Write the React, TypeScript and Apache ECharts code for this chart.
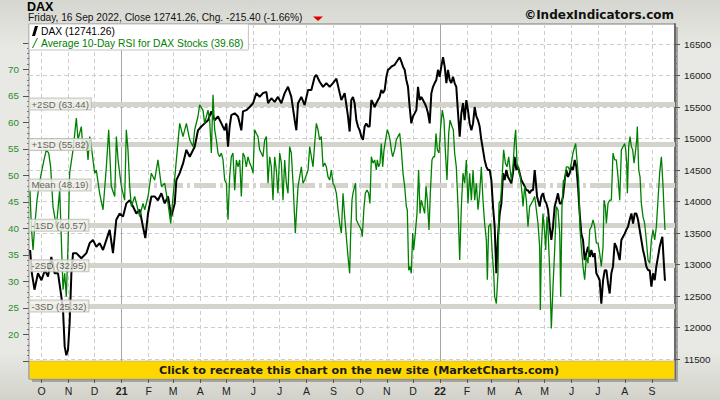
import React, { useEffect, useRef } from 'react';
import * as echarts from 'echarts';

const DAY = 86400000;
const BASE = new Date(2021, 0, 1).getTime();
// visible date range, in days from 1 Jan 2021
const X_MIN_DAY = -106.3;
const X_MAX_DAY = 634.5;

const title = 'DAX';
const subtitle = 'Friday, 16 Sep 2022, Close 12741.26, Chg. -215.40 (-1.66%)';
const copyright = '©IndexIndicators.com';
const bannerText = 'Click to recreate this chart on the new site (MarketCharts.com)';
const daxName = 'DAX (12741.26)';
const rsiName = 'Average 10-Day RSI for DAX Stocks (39.68)';

const monthLetters = ['J', 'F', 'M', 'A', 'M', 'J', 'J', 'A', 'S', 'O', 'N', 'D'];
const yearStarts = [2021, 2022];

// DAX axis (right)
const daxAxisMin = 11500;
const daxAxisMax = 16500;
const daxAxisStep = 500;
// RSI axis (left)
const rsiAxisMin = 15;
const rsiAxisMax = 75;
const rsiAxisStep = 5;
const rsiLabelsShown = [20, 25, 30, 35, 40, 45, 50, 55, 60, 65, 70];

const sdNames = ['+2SD', '+1SD', 'Mean', '-1SD', '-2SD', '-3SD'];
const sdLevels = [63.44, 55.82, 48.19, 40.57, 32.95, 25.32];

// observation day (days since 1 Jan 2021) and DAX close
const daxDays = [
  -105, -103, -100, -96, -92, -88, -84.5, -80.7, -76.9, -73, -69.2, -67.3, -65.4, -63.5, -61.6, -59.7, -57.7, -55.8, -52, -46.3,
  -40.5, -36.7, -32.9, -29.1, -25.3, -21.4, -17.6, -13.8, -10, -6.2, -2.3, 1.5, 5.3, 9.2, 13, 16.8, 20.6, 24.4, 27.1, 30.2,
  34, 37.8, 41.6, 45.5, 49.3, 53.1, 56.9, 60.8, 62.7, 66.5, 70.3, 74.2, 78,
  83.7, 87.5, 91.3, 95.1, 99, 102.8, 106.6, 110.4, 114.3, 118.1, 120, 121.9, 123.8, 125.7, 129.6, 133.4, 137.2, 139.1, 142.9,
  146.8, 150.6, 154.4, 158.2, 162, 165.9, 167.8, 171.6, 175.4, 179.2, 183.1, 186.9, 190.7, 194.5, 198.4, 200.3, 202.2, 206,
  209.8, 213.7, 217.5, 221.3, 223.2, 227, 230.9, 234.7, 238.5, 242.3, 246.2, 250, 251.9, 255.7, 259.5, 261.4,
  263.3, 265.2, 267.1, 269.1, 271, 272.9, 274.8, 276.7, 278.6, 280.5, 282.4, 284.3, 286.3, 288.2, 290.1, 292, 293.9, 295.8,
  297.7, 299.6, 301.6, 303.5, 305.4, 307.3, 309.2, 313, 316.8, 318.8, 320.7, 322.6, 324.5, 326.4, 328.3, 330.2, 332.1, 334,
  336, 337.9, 339.8, 341.7, 343.6, 345.5, 347.4, 349.3, 351.3, 353.2, 355.1, 357, 358.9, 360.8, 362.7, 364.6, 366.5, 368.5,
  370.4, 372.3, 374.2, 376.1, 378, 379.9, 381.8, 383.7, 385.7, 387.6, 389.5, 391.4, 393.3, 395.2, 397.1, 399, 401, 402.9,
  404.8, 406.7, 408.6, 410.5, 412.4, 414.3, 416.2, 418.2, 420.1, 422, 423.9, 425.8, 427.7, 429.6, 431.5, 433.5, 435.4, 437.3,
  439.2, 441.1, 443,
  444.9, 446.8, 448.7, 450.6, 452.6, 454.5, 456.4, 458.3, 460.2, 462.1, 464, 465.9, 467.8, 469.8, 471.7, 473.6, 474.7, 476.3,
  477.4, 479.3, 481.2, 483.1, 485.1, 487, 488.9, 490.8, 492.7, 494.6, 496.5, 498.4, 500.3, 502.3, 504.2, 506.1, 508, 509.9,
  511.8, 513.7, 515.6, 517.5, 519.5, 521.4, 523.3, 525.2, 527.1, 529, 530.9, 532.8, 534.8, 536.7, 538.6, 540.5, 542.4, 544.3,
  546.2, 548.1, 550, 552, 553.9, 555.8, 557.7, 559.6, 561.5, 563.4, 565.3, 567.2, 569.2, 571.1, 573, 574.9, 576.8, 578.7,
  580.6, 582.5, 584.5, 586.4, 588.3, 590.2, 592.1, 594, 595.9, 597.8, 599.7, 601.6, 603.6, 605.5, 607.4, 609.3, 611.2, 613.1,
  615, 616.9, 618.9, 620, 621.5, 623,
];
const daxValues = [
  13230, 12860, 12600, 12860, 12750, 12910, 12810, 13120, 12860, 12860, 12490, 12280, 11700, 11560, 11640, 12070, 12860, 13180, 13180, 13100,
  13180, 13340, 13390, 13280, 13340, 13230, 13390, 13550, 13180, 13710, 13810, 13760, 13970, 14020, 13920, 13810, 13870, 13600, 13420, 13810,
  14080, 14080, 14020, 14130, 13970, 14080, 13760, 13970, 14340, 14450, 14600, 14820, 14710,
  14870, 15130, 15190, 15240, 15290, 15430, 15290, 15350, 15240, 15130, 15240, 14870, 15190, 15370, 15400, 15350, 15130, 15430, 15450,
  15500, 15560, 15720, 15660, 15720, 15740, 15560, 15640, 15580, 15660, 15560, 15720, 15820, 15660, 15290, 15130, 15560, 15660,
  15530, 15770, 15770, 15980, 16010, 15900, 15820, 15880, 15820, 15880, 15950, 15720, 15610, 15720, 15350, 15110,
  15610, 15660, 15560, 15290, 15190, 15130, 15030, 14980, 15190, 15240, 15190, 15190, 15610, 15560, 15500, 15560, 15610, 15660,
  15770, 15720, 15770, 15980, 16090, 16110, 16140, 16170, 16250, 16290, 16220, 16140, 16090, 15930, 15820, 15500, 15240, 15350,
  15400, 15450, 15820, 15610, 15660, 15610, 15560, 15500, 15400, 15240, 15720, 15820, 15880, 15930, 16090, 15980, 16140, 16290,
  16140, 15880, 16090, 15930, 15880, 15980, 15880, 15820, 15400, 15030, 15400, 15560, 15290, 15610, 15450, 15240, 15130, 15240,
  15500, 15350, 15290, 15190, 14980, 14820, 14660, 14550, 14500, 14500, 14340, 13920, 13600, 12860, 13440, 13810, 13970, 14450,
  14340, 14500, 14390,
  14340, 14290, 14450, 14710, 14500, 14550, 14450, 14340, 14290, 14240, 14180, 14180, 14130, 14180, 14180, 14500, 14340, 14080,
  14020, 13920, 14080, 14130, 14020, 13970, 13870, 13600, 13390, 13600, 13920, 14020, 14130, 13970, 13970, 14080, 14340, 14500,
  14390, 14450, 14550, 14500, 14660, 14550, 14240, 13810, 13490, 13390, 13070, 13180, 13280, 13120, 13230, 13120, 13180, 12860,
  12810, 12750, 12380, 12750, 12910, 12910, 12700, 12540, 12860, 12970, 13340, 13280, 13180, 13070, 13390, 13440, 13490, 13550,
  13600, 13710, 13810, 13650, 13810, 13810, 13710, 13550, 13390, 13230, 13120, 12970, 12910, 12910, 12650, 12860, 12750, 12970,
  13120, 13280, 13390, 13440, 13070, 12741.26,
];

// observation day (days since 1 Jan 2021) and average 10-day RSI
const rsiDays = [
  -105.2, -103.6, -101.7, -99.8, -97.1, -94.8, -92.2, -89.1, -86.4, -83.7, -81.5, -78.8, -74.9, -71.1, -69.2, -67.3, -65.4, -63.5,
  -61.6, -59.7, -55.8, -52, -50.1, -46.3, -44.4, -40.5, -38.6, -36.7, -34.8, -31, -29.1, -25.3, -21.4, -17.6, -14.9, -11.9, -8,
  -6.1, -4.2, -0.4, 3.4, 5.3, 7.2, 9.2, 11.1, 14.9, 20.6, 24.4, 26.4, 30.2, 34, 37.8, 41.6, 45.5, 49.3, 53.1, 56.2, 58.9, 62.7,
  66.5, 70.3, 74.2, 78, 81.8,
  83.7, 87.5, 89.4, 93.2, 95.1, 97.1, 99, 100.9, 102.8, 104.7, 106.6, 108.5, 110.4, 112.3, 114.3, 116.2, 118.1, 120, 121.9, 123.8,
  125.7, 127.6, 129.6, 131.5, 133.4, 135.3, 137.2, 139.1, 141, 142.9, 144.8, 146.8, 148.7, 150.6, 152.5, 154.4, 156.3, 158.2,
  160.1, 162, 164, 165.9, 167.8, 169.7, 171.6, 173.5, 175.4, 177.3, 179.2, 181.2, 183.1, 185, 186.9, 188.8, 190.7, 192.6, 194.5,
  196.5, 199.1, 202.2, 206, 207.9, 209.8, 213.7, 215.6, 217.5, 219.4, 221.3, 223.2, 225.1, 227, 228.9, 230.9, 232.8, 234.7,
  236.6, 238.5, 240.4, 242.3, 244.2, 246.2, 248.1, 250, 251.9, 253.8, 255.7, 257.6, 259.5, 261.4,
  262.6, 264.1, 265.2, 267.1, 268.3, 269.1, 271, 272.9, 274.8, 275.9, 277.9, 279.4, 281.3, 283.2, 284.7, 286.3, 288.2, 290.1,
  292, 293.1, 294.7, 296.2, 297.7, 299.3, 300.8, 302.7, 304.6, 306.1, 307.7, 309.2, 310.7, 313, 314.9, 316.8, 318.8, 320.7,
  322.6, 324.5, 326.4, 327.5, 329.1, 330.6, 332.1, 333.7, 334.8, 336.7, 338.6, 340.5, 342.1, 343.6, 345.5, 347.4, 349, 350.5,
  352.4, 353.9, 355.8, 357.4, 358.9, 360.4, 362, 363.9, 365.8, 367.7, 369.6, 371.1, 373, 375, 376.5, 378.8, 380.3, 381.8, 383.7,
  385.7, 387.6, 389.5, 391.4, 393.3, 395.2, 397.1, 399, 401, 402.9, 404.8, 406.7, 408.6, 410.5, 412.4, 414.3, 416.2, 418.2,
  419.3, 420.8, 423.1, 424.7, 426.6, 427.7, 429.6, 431.5, 432.7, 434.6, 436.1, 438, 440, 441.9, 443.8,
  446.8, 448.7, 450.6, 451.8, 453.3, 455.2, 457.1, 459.1, 460.2, 462.1, 464, 465.9, 467.8, 469.8, 471.7, 473.6, 475.5, 477.4,
  479.3, 480.1, 481.2, 483.1, 485.1, 486.2, 487.7, 488.9, 490.8, 492.7, 494.6, 496.5, 498.4, 500.3, 502.3, 503.4, 504.9, 506.5,
  508, 509.9, 511.8, 513.7, 515.6, 517.5, 519.5, 520.6, 522.1, 524, 525.6, 527.1, 529, 530.9, 532.8, 534.8, 536.7, 538.6,
  540.5, 542.4, 544.3, 546.2, 548.1, 550, 552, 553.1, 554.6, 555.8, 557.7, 559.6, 561.5, 563.4, 565.3, 567.2, 569.2, 571.1,
  573, 574.9, 576.8, 578, 579.1, 579.9, 581.4, 582.9, 584.5, 586, 587.5, 589, 590.6, 591.3, 592.9, 594.4, 595.9, 597.8, 599.7,
  601.6, 603.6, 605.5, 607.4, 609.3, 611.2, 613.1, 615, 616.9, 618.9, 620.8, 621.9, 623,
];
const rsiValues = [
  47.2, 40.3, 35.9, 40.3, 45.3, 47.9, 50.4, 52.9, 54.8, 54.2, 51.6, 44.1, 40.3, 47.2, 37.8, 28.4, 31.5, 27.1,
  36.5, 50.4, 54.8, 60.8, 56.7, 59.2, 54.8, 56.7, 52.9, 57.3, 55.4, 50.4, 51, 46.6, 43.5, 51.6, 58.6, 47.9, 46,
  57.3, 52.9, 47.9, 45.3, 58.6, 54.8, 47.9, 44.1, 46, 42.2, 44.7, 43.5, 46, 50.4, 49.1, 52.9, 47.9, 48.5, 44.7, 40.9, 46, 52.9,
  59.8, 57.3, 59.8, 56.7, 55.4,
  58.6, 61.1, 63.3, 62.3, 59.8, 61.1, 62.3, 60.4, 54.2, 65.2, 58.6, 56.7, 54.2, 53.5, 54.2, 52.9, 49.1, 48.5, 41.6, 49.7,
  53.5, 54.2, 47.2, 52.9, 51.6, 52.9, 46, 54.2, 53.5, 51.6, 53.5, 52.3, 51.6, 50.4, 58.6, 57.9, 57.3, 54.8,
  54.2, 53.5, 56.7, 57.3, 48.5, 53.5, 51.6, 45.3, 53.5, 51, 46.6, 54.2, 52.3, 45.3, 52.9, 48.5, 46.6, 55.4, 54.2,
  48.5, 39.1, 47.9, 51.6, 48.5, 49.1, 51, 55.4, 53.5, 51.6, 56, 59.8, 58.6, 56.7, 57.3, 51.6, 52.3, 51.6,
  49.7, 49.1, 51, 48.5, 47.9, 46.6, 43.5, 40.9, 39.1, 46.6, 42.2, 38.4, 34.7, 31.5,
  39.1, 45.3, 46.6, 47.9, 48.5, 41.6, 40.9, 40.3, 39.7, 38.4, 44.1, 46.6, 47.2, 46.6, 44.7, 53.5, 52.3, 52.9,
  51, 52.9, 51.6, 52.3, 56, 51.6, 54.8, 56.7, 58.6, 57.9, 56.7, 54.8, 53.5, 54.8, 56.7, 57.3, 57.9, 54.8,
  50.4, 47.9, 44.1, 43.5, 32.1, 32.8, 31.5, 39.1, 35.9, 39.1, 42.8, 51, 42.8, 45.3, 44.1, 42.8, 47.9, 45.3,
  39.7, 46.6, 52.9, 53.5, 53.5, 57.9, 54.8, 54.2, 59.2, 62.3, 60.4, 54.8, 49.1, 57.9, 60.4, 59.2, 58.6, 54.2, 51.6,
  44.1, 34, 44.1, 50.4, 48.5, 52.9, 44.7, 50.4, 45.3, 51, 45.3, 48.5, 43.5, 46.6, 51.6, 45.3, 40.9, 37.8,
  30.3, 40.3, 40.9, 35.9, 31.5, 27.1, 25.8, 31.5, 44.7, 45.3, 49.1, 54.8, 52.3, 51.6, 53.5,
  49.1, 51.6, 56.7, 58.6, 52.3, 51, 49.7, 46.6, 44.1, 47.9, 45.3, 40.3, 44.1, 44.7, 45.3, 46, 43.5, 40.9,
  36.5, 24.6, 35.9, 42.8, 39.1, 35.9, 42.2, 39.7, 32.1, 21.1, 29, 35.9, 44.1, 43.5, 39.1, 27.1, 44.1, 49.1,
  48.5, 51.6, 51.6, 51, 52.3, 54.2, 55.4, 56, 52.9, 49.1, 39.7, 36.5, 32.8, 30.3, 34.7, 33.4, 39.7, 40.3,
  41.6, 40.3, 37.2, 37.2, 35.3, 32.8, 36.5, 45.3, 44.1, 40.9, 44.7, 45.3, 45.3, 54.2, 52.9, 52.9, 49.7, 45.3,
  54.8, 55.4, 56, 54.8, 52.3, 46.6, 55.4, 57.3, 55.4, 54.8, 52.3, 54.2, 56.7, 59.2, 51, 49.7, 44.7, 42.2, 40.9,
  37.8, 34, 33.4, 37.8, 39.7, 37.8, 40.3, 45.3, 50.4, 53.5, 47.9, 43.5, 39.68,
];

const FONT = '"Liberation Sans", Arial, sans-serif';
const BOLD_FONT = '"DejaVu Sans", Verdana, sans-serif';

export default function App() {
  const ref = useRef<HTMLDivElement>(null);

  useEffect(() => {
    if (!ref.current) return;
    const chart = echarts.init(ref.current, undefined, { renderer: 'svg' });
    const toTime = (d: number) => BASE + d * DAY;
    const xMin = toTime(X_MIN_DAY);
    const xMax = toTime(X_MAX_DAY);
    const daxData = daxDays.map((d, i) => [toTime(d), daxValues[i]]);
    const rsiData = rsiDays.map((d, i) => [toTime(d), rsiValues[i]]);
    const sdLabelData = sdLevels.map((v, i) => ({ name: `${sdNames[i]} (${v.toFixed(2)})`, value: [xMin, v] }));

    const plot = { left: 29, width: 646 };
    const option: any = {
      animation: false,
      backgroundColor: {
        type: 'linear', x: 0, y: 0, x2: 0, y2: 1,
        colorStops: [
          { offset: 0, color: '#d6d6d0' },
          { offset: 0.12, color: '#e8e8e4' },
          { offset: 0.88, color: '#e8e8e4' },
          { offset: 1, color: '#d2d2ca' },
        ],
      },
      textStyle: { fontFamily: FONT },
      grid: [
        { ...plot, top: 24, height: 355, show: true, backgroundColor: '#ffffff', borderColor: '#7a7a7a', borderWidth: 1, outerBoundsMode: 'none' },
        { ...plot, top: 44, height: 315, outerBoundsMode: 'none' },
        { ...plot, top: 42.8, height: 318, outerBoundsMode: 'none' },
      ],
      xAxis: [
        {
          type: 'time', gridIndex: 0, min: xMin, max: xMax,
          splitNumber: 24, minInterval: 28 * DAY, maxInterval: 31 * DAY,
          axisLine: { show: false },
          axisTick: { show: true, length: 4, lineStyle: { color: '#555' } },
          axisLabel: {
            color: '#222', fontSize: 10.5, margin: 6, fontFamily: FONT,
            formatter: (v: number) => {
              const dt = new Date(v);
              if (dt.getDate() !== 1) return '';
              const m = dt.getMonth();
              if (m === 0) return '{y|' + String(dt.getFullYear()).slice(2) + '}';
              return monthLetters[m];
            },
            rich: { y: { fontWeight: 'bold', fontSize: 10.5, color: '#222', fontFamily: FONT } },
          },
          splitLine: { show: true, lineStyle: { color: '#cdcdcd', type: [4, 3], width: 1 } },
        },
        { type: 'time', gridIndex: 1, min: xMin, max: xMax, show: false },
        { type: 'time', gridIndex: 2, min: xMin, max: xMax, show: false },
      ],
      yAxis: [
        {
          type: 'value', gridIndex: 0, min: 0, max: 1, position: 'right',
          axisLine: { show: true, lineStyle: { color: '#6a6a6a', width: 2 } },
          axisTick: { show: false }, axisLabel: { show: false }, splitLine: { show: false },
        },
        {
          type: 'value', gridIndex: 1, position: 'right',
          min: daxAxisMin, max: daxAxisMax, interval: daxAxisStep,
          axisLine: { show: false },
          axisTick: { show: true, length: 5, lineStyle: { color: '#555' } },
          minorTick: { show: true, splitNumber: 5, length: 2, lineStyle: { color: '#777' } },
          axisLabel: { color: '#222', fontSize: 9.8, margin: 9, fontFamily: FONT, formatter: (v: number) => String(v) },
          splitLine: { show: true, lineStyle: { color: '#cdcdcd', type: [4, 3], width: 1 } },
        },
        {
          type: 'value', gridIndex: 2, position: 'left',
          min: rsiAxisMin, max: rsiAxisMax, interval: rsiAxisStep,
          axisLine: { show: false },
          axisTick: { show: true, length: 6, lineStyle: { color: '#555' } },
          minorTick: { show: true, splitNumber: 5, length: 2, lineStyle: { color: '#777' } },
          axisLabel: {
            color: '#2a8c2a', fontSize: 9.8, margin: 10, fontFamily: FONT,
            formatter: (v: number) => (rsiLabelsShown.includes(v) ? String(v) : ''),
          },
          splitLine: { show: false },
        },
      ],
      legend: {
        left: 29, top: 24, orient: 'vertical', selectedMode: false,
        backgroundColor: '#ffffff', borderColor: '#c4c4c4', borderWidth: 1, borderRadius: 0,
        padding: [2, 5, 2, 3], itemGap: 2, itemWidth: 6, itemHeight: 10,
        textStyle: { fontSize: 10.3, fontFamily: FONT, padding: [0, 0, 0, -2] },
        data: [
          { name: daxName, icon: 'path://M3,0 L6,0 L3,10 L0,10 Z', textStyle: { color: '#000' } },
          { name: rsiName, icon: 'path://M5,0 L6,0 L1,10 L0,10 Z', textStyle: { color: '#008000' } },
        ],
      },
      graphic: [
        { type: 'rect', z: -1, silent: true, shape: { x: 32, y: 27, width: 646, height: 355 }, style: { fill: '#a3a3a0' } },
        { type: 'text', x: 27, y: 0, style: { text: title, fontFamily: FONT, fontWeight: 'bold', fontSize: 12.5, fill: '#000', verticalAlign: 'top' } },
        { type: 'text', x: 28, y: 12.7, style: { text: subtitle, fontFamily: FONT, fontSize: 10.2, fill: '#111', verticalAlign: 'top' } },
        { type: 'polygon', shape: { points: [[313, 16.5], [323, 16.5], [318, 21]] }, style: { fill: '#e00000' } },
        { type: 'text', x: 674, y: 9, style: { text: copyright, fontFamily: BOLD_FONT, fontWeight: 'bold', fontSize: 12, fill: '#111', align: 'right', verticalAlign: 'top' } },
        { type: 'rect', z: 50, silent: true, shape: { x: 29.5, y: 361, width: 645, height: 18 }, style: { fill: '#ffd700', stroke: '#a8a890', lineWidth: 0.6 } },
        { type: 'text', z: 51, x: 359, y: 370.5, style: { text: bannerText, fontFamily: BOLD_FONT, fontWeight: 'bold', fontSize: 11.2, fill: '#1a1a1a', align: 'center', verticalAlign: 'middle' } },
      ],
      series: [
        {
          name: 'years', type: 'line', xAxisIndex: 0, yAxisIndex: 0, data: [], silent: true, z: 1,
          markLine: {
            silent: true, symbol: ['none', 'none'], label: { show: false }, z: 1,
            lineStyle: { color: '#a6a6a6', width: 1, type: 'solid' },
            data: yearStarts.map((y) => ({ xAxis: new Date(y, 0, 1).getTime() })),
          },
        },
        {
          name: 'bands', type: 'line', xAxisIndex: 2, yAxisIndex: 2, data: [], silent: true, z: 1,
          markLine: {
            silent: true, symbol: ['none', 'none'], label: { show: false }, z: 1,
            data: sdLevels.map((v, i) => ({
              yAxis: v,
              lineStyle: { color: '#d4d4cc', width: 5, type: sdNames[i] === 'Mean' ? [22, 4, 3, 4] : 'solid' },
            })),
          },
        },
        {
          name: daxName, type: 'line', xAxisIndex: 1, yAxisIndex: 1, data: daxData,
          symbol: 'none', showSymbol: false, z: 3,
          lineStyle: { color: '#000000', width: 2 }, itemStyle: { color: '#000000' },
        },
        {
          name: rsiName, type: 'line', xAxisIndex: 2, yAxisIndex: 2, data: rsiData,
          symbol: 'none', showSymbol: false, z: 4,
          lineStyle: { color: '#008000', width: 1.3 }, itemStyle: { color: '#008000' },
        },
        {
          name: 'sdLabels', type: 'scatter', xAxisIndex: 2, yAxisIndex: 2, data: sdLabelData,
          symbolSize: 1, itemStyle: { color: 'rgba(0,0,0,0)' }, silent: true, clip: false, z: 6,
          label: {
            show: true, position: 'right', distance: 0, formatter: (p: any) => p.name,
            fontFamily: FONT, fontSize: 9.6, color: '#3a3a3a', lineHeight: 10,
            backgroundColor: '#f0f0ea', borderColor: '#b8b8b0', borderWidth: 1, padding: [1, 2, 0, 2],
          },
        },
      ],
    };
    chart.setOption(option);
    return () => chart.dispose();
  }, []);

  return <div ref={ref} style={{ position: 'fixed', left: 0, top: 0, width: 720, height: 400 }} />;
}
